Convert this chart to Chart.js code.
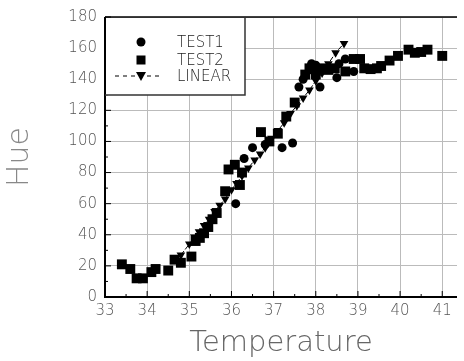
<!DOCTYPE html>
<html>
<head>
<meta charset="utf-8">
<script src="https://cdn.jsdelivr.net/npm/chart.js@4.4.1/dist/chart.umd.min.js"></script>
<style>
  html, body { margin: 0; padding: 0; background: #fff; }
  #wrap { width: 464px; height: 361px; }
</style>
</head>
<body>
<div id="wrap"><canvas id="myChart"></canvas></div>
<script>
// TEST1 (circles)
const test1X = [36.1, 36.3, 36.5, 36.8, 37.2, 37.45, 37.6, 37.7, 37.85, 37.9, 38.0, 38.05, 38.1, 38.4, 38.5, 38.55, 38.7, 38.9];
const test1Y = [60, 89, 96, 98, 96, 99, 135, 140, 146, 150, 149, 147, 135, 147, 141, 150, 153, 145];

// TEST2 (squares)
const test2X = [33.4, 33.6, 33.75, 33.9, 34.1, 34.2, 34.5, 34.65, 34.8, 35.05,
  35.15, 35.25, 35.35, 35.45, 35.55, 35.65, 35.85, 35.93, 36.08, 36.2, 36.25, 36.7, 36.9, 37.1, 37.3, 37.5,
  37.75, 37.85, 38.0, 38.2, 38.3, 38.45, 38.7, 38.9, 39.05, 39.15, 39.3, 39.45, 39.55, 39.75, 39.95,
  40.2, 40.35, 40.5, 40.65, 41.0];
const test2Y = [21, 18, 12, 12, 16, 18, 17, 24, 22, 26,
  36, 38, 41, 45, 50, 54, 68, 82, 85, 72, 80, 106, 100, 105, 116, 125,
  143, 147, 143, 147, 146, 147, 145, 153, 153, 147, 146.5, 147, 148.5, 152, 155,
  159, 157, 157.5, 159, 155];

// LINEAR (triangles, dashed)
const linX = [34.8, 35.0, 35.12, 35.23, 35.35, 35.47, 35.6, 35.72, 35.85, 36.0, 36.12, 36.25, 36.4, 36.55,
  36.68, 36.8, 36.95, 37.1, 37.25, 37.4, 37.55, 37.7, 37.85, 38.0, 38.15, 38.3, 38.47, 38.67];
const linY = [27, 34, 38.6, 42, 46, 50, 55, 59, 63, 69, 73, 78, 83, 88,
  92, 96, 102, 107, 112, 118, 123, 128, 133, 139, 144, 150, 157, 163];

const xTicks = [33, 34, 35, 36, 37, 38, 39, 40, 41];
const legendLabels = ['TEST1', 'TEST2', 'LINEAR'];

const pts = (xs, ys) => xs.map((x, i) => ({ x: x, y: ys[i] }));

const frame = {
  id: 'frame',
  afterDraw(chart) {
    const ctx = chart.ctx;
    const a = chart.chartArea;
    const xs = chart.scales.x, ys = chart.scales.y;
    ctx.save();
    ctx.strokeStyle = '#000';
    // axes lines
    ctx.lineWidth = 2;
    ctx.beginPath();
    ctx.moveTo(a.left, a.top);
    ctx.lineTo(a.left, a.bottom);
    ctx.lineTo(a.right, a.bottom);
    ctx.stroke();
    ctx.lineWidth = 1.5;
    ctx.beginPath();
    ctx.moveTo(a.left, a.top);
    ctx.lineTo(a.right, a.top);
    ctx.stroke();
    // inward ticks
    ctx.lineWidth = 1;
    for (let v = 33; v <= 41.01; v += 0.5) {
      const p = xs.getPixelForValue(v);
      const len = Number.isInteger(v) ? 6 : 3;
      ctx.beginPath();
      ctx.moveTo(p, a.bottom);
      ctx.lineTo(p, a.bottom - len);
      ctx.stroke();
    }
    for (let v = 0; v <= 180; v += 10) {
      const p = ys.getPixelForValue(v);
      const len = v % 20 === 0 ? 6 : 3;
      ctx.beginPath();
      ctx.moveTo(a.left, p);
      ctx.lineTo(a.left + len, p);
      ctx.stroke();
    }
    // legend box
    const bx = a.left, by = a.top, bw = 140, bh = 78;
    ctx.fillStyle = '#fff';
    ctx.fillRect(bx + 1, by + 1, bw - 1, bh - 1);
    ctx.lineWidth = 1.5;
    ctx.strokeStyle = '#333';
    ctx.beginPath();
    ctx.moveTo(bx, by + bh);
    ctx.lineTo(bx + bw, by + bh);
    ctx.lineTo(bx + bw, by);
    ctx.stroke();
    const rows = [by + 25, by + 43, by + 59];
    const mx = bx + 36;
    ctx.fillStyle = '#000';
    ctx.beginPath();
    ctx.arc(mx, rows[0], 4.5, 0, Math.PI * 2);
    ctx.fill();
    ctx.fillRect(mx - 4.5, rows[1] - 4.5, 9, 9);
    ctx.strokeStyle = '#000';
    ctx.lineWidth = 1;
    ctx.setLineDash([4, 4]);
    ctx.beginPath();
    ctx.moveTo(bx + 10, rows[2]);
    ctx.lineTo(bx + 56, rows[2]);
    ctx.stroke();
    ctx.setLineDash([]);
    ctx.beginPath();
    ctx.moveTo(mx - 5, rows[2] - 4);
    ctx.lineTo(mx + 5, rows[2] - 4);
    ctx.lineTo(mx, rows[2] + 5);
    ctx.closePath();
    ctx.fill();
    ctx.font = '200 15px "DejaVu Sans"';
    ctx.fillStyle = '#222';
    ctx.textBaseline = 'middle';
    legendLabels.forEach((t, i) => ctx.fillText(t, bx + 72, rows[i] + 1));
    ctx.restore();
  }
};

const ctx = document.getElementById('myChart');
const chart = new Chart(ctx, {
  type: 'scatter',
  data: {
    datasets: [
      { label: 'TEST1', data: pts(test1X, test1Y), pointStyle: 'circle', pointRadius: 4.5,
        backgroundColor: '#000', borderColor: '#000', borderWidth: 0 },
      { label: 'TEST2', data: pts(test2X, test2Y), pointStyle: 'rect', pointRadius: 7,
        backgroundColor: '#000', borderColor: '#000', borderWidth: 0 },
      { label: 'LINEAR', data: pts(linX, linY), showLine: true, pointStyle: 'triangle', rotation: 180,
        pointRadius: 5, backgroundColor: '#000', borderColor: '#000', borderWidth: 1, borderDash: [5, 2],
        pointBorderWidth: 0 }
    ]
  },
  options: {
    responsive: true,
    maintainAspectRatio: false,
    animation: false,
    layout: { padding: { top: 14, right: 0, left: 0, bottom: 0 } },
    plugins: { legend: { display: false }, tooltip: { enabled: false } },
    scales: {
      x: {
        type: 'linear', min: 33, max: 41.35,
        afterFit: s => { s.height = 64; },
        afterBuildTicks: s => { s.ticks = xTicks.map(v => ({ value: v })); },
        ticks: { padding: 5, color: '#555', font: { family: 'DejaVu Sans', size: 15, weight: 200 }, maxRotation: 0 },
        grid: { color: '#bbb', borderDash: [1, 6], drawTicks: false },
        border: { display: false },
        title: { display: true, text: 'Temperature', color: '#666',
          font: { family: 'DejaVu Sans', size: 29, weight: 200 }, padding: { top: 0, bottom: 0 } }
      },
      y: {
        min: 0, max: 180,
        afterFit: s => { s.width = 105; },
        ticks: { stepSize: 20, padding: 8, color: '#555', font: { family: 'DejaVu Sans', size: 15, weight: 200 } },
        grid: { color: '#bbb', borderDash: [1, 6], drawTicks: false },
        border: { display: false },
        title: { display: true, text: 'Hue', color: '#888',
          font: { family: 'DejaVu Sans', size: 30, weight: 200 }, padding: { top: 2, bottom: 0 } }
      }
    }
  },
  plugins: [frame]
});
</script>
</body>
</html>
